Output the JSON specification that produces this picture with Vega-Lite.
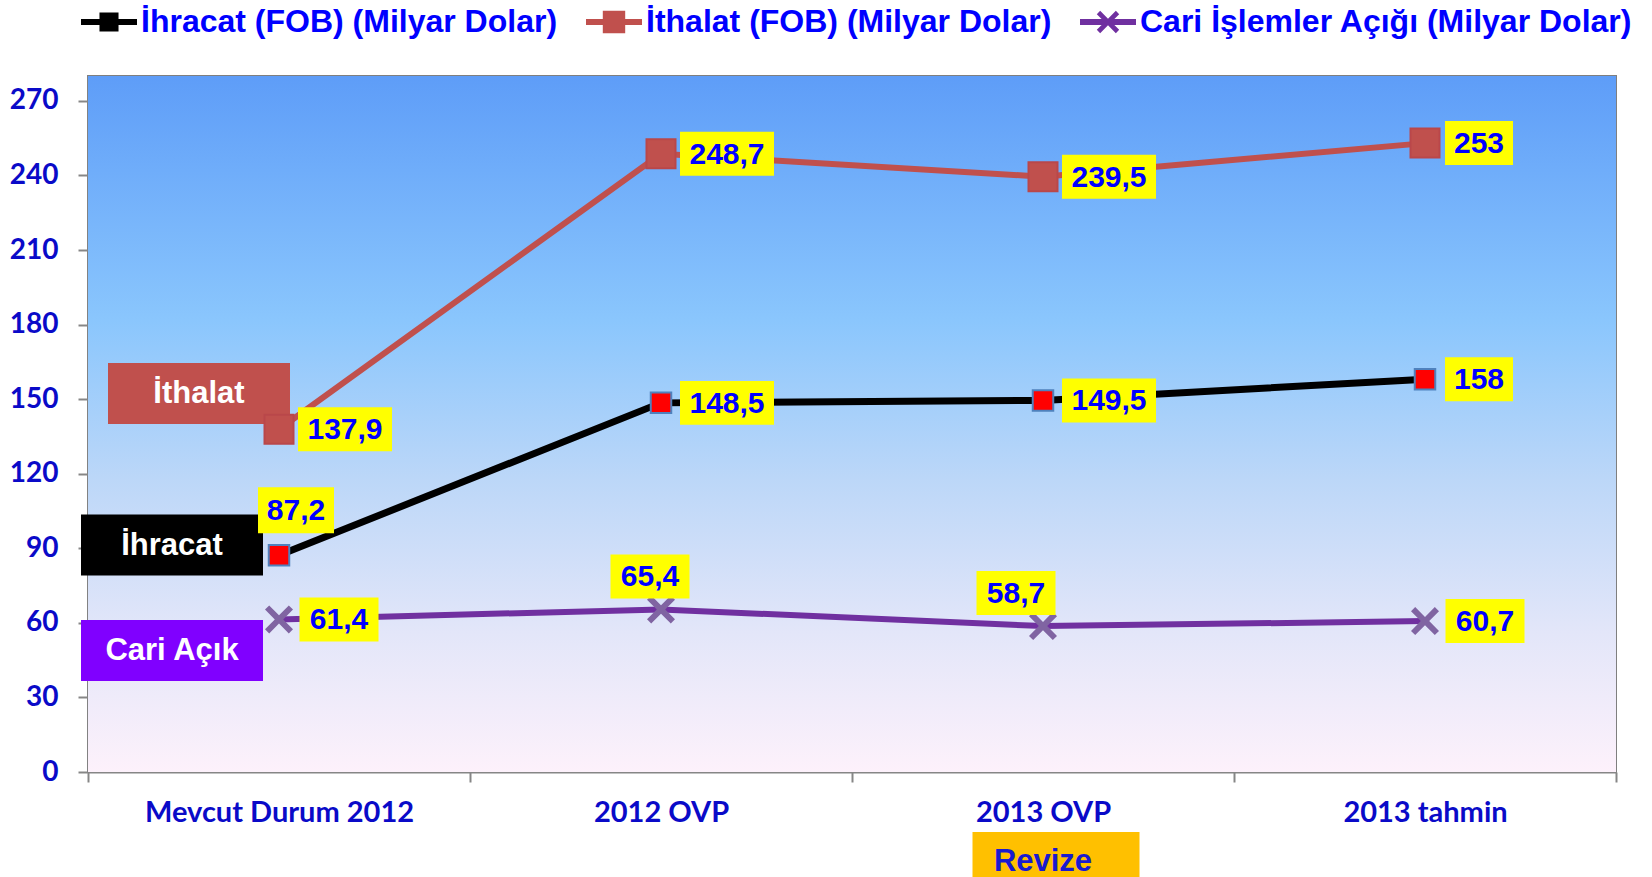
{
  "$schema": "https://vega.github.io/schema/vega-lite/v6.json",
  "width": 1528,
  "height": 696,
  "autosize": {"type": "none"},
  "padding": {"left": 88, "top": 76, "right": 36, "bottom": 105},
  "background": "#FFFFFF",
  "config": {"view": {"stroke": "#7F7F7F", "strokeWidth": 2}},
  "datasets": {
    "main": [
      {"cat": "Mevcut Durum 2012", "series": "İhracat (FOB) (Milyar Dolar)", "value": 87.2, "label": "87,2"},
      {"cat": "2012 OVP", "series": "İhracat (FOB) (Milyar Dolar)", "value": 148.5, "label": "148,5"},
      {"cat": "2013 OVP", "series": "İhracat (FOB) (Milyar Dolar)", "value": 149.5, "label": "149,5"},
      {"cat": "2013 tahmin", "series": "İhracat (FOB) (Milyar Dolar)", "value": 158, "label": "158"},
      {"cat": "Mevcut Durum 2012", "series": "İthalat (FOB) (Milyar Dolar)", "value": 137.9, "label": "137,9"},
      {"cat": "2012 OVP", "series": "İthalat (FOB) (Milyar Dolar)", "value": 248.7, "label": "248,7"},
      {"cat": "2013 OVP", "series": "İthalat (FOB) (Milyar Dolar)", "value": 239.5, "label": "239,5"},
      {"cat": "2013 tahmin", "series": "İthalat (FOB) (Milyar Dolar)", "value": 253, "label": "253"},
      {"cat": "Mevcut Durum 2012", "series": "Cari İşlemler Açığı (Milyar Dolar)", "value": 61.4, "label": "61,4"},
      {"cat": "2012 OVP", "series": "Cari İşlemler Açığı (Milyar Dolar)", "value": 65.4, "label": "65,4"},
      {"cat": "2013 OVP", "series": "Cari İşlemler Açığı (Milyar Dolar)", "value": 58.7, "label": "58,7"},
      {"cat": "2013 tahmin", "series": "Cari İşlemler Açığı (Milyar Dolar)", "value": 60.7, "label": "60,7"}
    ],
    "ann": [
      {"cat": "Mevcut Durum 2012", "value": 152.3, "text": "İthalat"},
      {"cat": "Mevcut Durum 2012", "value": 91.3, "text": "İhracat"},
      {"cat": "Mevcut Durum 2012", "value": 48.9, "text": "Cari Açık"},
      {"cat": "2013 OVP", "value": -35.8, "text": "Revize"}
    ],
    "bg": [{"value": 0, "value2": 280}]
  },
  "layer": [
    {
      "data": {"name": "bg"},
      "mark": {"type": "rect", "fill": {"gradient": "linear", "x1": 0, "y1": 0, "x2": 0, "y2": 1, "stops": [
        {"offset": 0, "color": "#5E9DF8"},
        {"offset": 0.35, "color": "#8AC6FD"},
        {"offset": 0.58, "color": "#BCD7F8"},
        {"offset": 0.8, "color": "#E3E6F9"},
        {"offset": 1, "color": "#FDF1FB"}
      ]}},
      "encoding": {
        "y": {"field": "value", "type": "quantitative", "scale": {"domain": [0, 280], "nice": false},
          "axis": {"title": null, "values": [0, 30, 60, 90, 120, 150, 180, 210, 240, 270], "grid": false, "domainColor": "#868686", "domainWidth": 2, "tickColor": "#868686", "tickWidth": 2, "tickSize": 10, "labelPadding": 20, "labelFont": "Lato", "labelFontWeight": "bold", "labelFontSize": 28, "labelColor": "#0A0AC8"}},
        "y2": {"field": "value2"}
      }
    },
    {
      "data": {"name": "ann"},
      "encoding": {
        "x": {"field": "cat", "type": "nominal", "sort": null, "scale": {"type": "band", "domain": ["Mevcut Durum 2012", "2012 OVP", "2013 OVP", "2013 tahmin"], "paddingInner": 0, "paddingOuter": 0},
          "axis": {"title": null, "labelAngle": 0, "domainColor": "#868686", "domainWidth": 2, "tickColor": "#868686", "tickWidth": 2, "tickSize": 10, "tickBand": "extent", "labelPadding": 16, "labelFont": "Lato", "labelFontWeight": "bold", "labelFontSize": 29, "labelColor": "#0A0AC8", "labelLimit": 500}},
        "y": {"field": "value", "type": "quantitative"}
      },
      "layer": [
        {
          "transform": [{"filter": "datum.text === 'İthalat'"}],
          "layer": [
            {"mark": {"type": "point", "shape": "M-1,-0.335H1V0.335H-1Z", "size": 33124, "filled": true, "fill": "#C0504D", "opacity": 1, "strokeWidth": 0, "xOffset": -80}},
            {"mark": {"type": "text", "font": "Liberation Sans", "fontWeight": "bold", "fontSize": 31, "color": "#FFFFFF", "align": "center", "baseline": "middle", "xOffset": -80, "yOffset": 1}, "encoding": {"text": {"field": "text"}}}
          ]
        },
        {
          "transform": [{"filter": "datum.text === 'İhracat'"}],
          "layer": [
            {"mark": {"type": "point", "shape": "M-1,-0.335H1V0.335H-1Z", "size": 33124, "filled": true, "fill": "#000000", "opacity": 1, "strokeWidth": 0, "xOffset": -107}},
            {"mark": {"type": "text", "font": "Liberation Sans", "fontWeight": "bold", "fontSize": 31, "color": "#FFFFFF", "align": "center", "baseline": "middle", "xOffset": -107, "yOffset": 1}, "encoding": {"text": {"field": "text"}}}
          ]
        },
        {
          "transform": [{"filter": "datum.text === 'Cari Açık'"}],
          "layer": [
            {"mark": {"type": "point", "shape": "M-1,-0.335H1V0.335H-1Z", "size": 33124, "filled": true, "fill": "#8000FF", "opacity": 1, "strokeWidth": 0, "xOffset": -107}},
            {"mark": {"type": "text", "font": "Liberation Sans", "fontWeight": "bold", "fontSize": 31, "color": "#FFFFFF", "align": "center", "baseline": "middle", "xOffset": -107, "yOffset": 1}, "encoding": {"text": {"field": "text"}}}
          ]
        },
        {
          "transform": [{"filter": "datum.text === 'Revize'"}],
          "layer": [
            {"mark": {"type": "point", "shape": "M-1,-0.347H1V0.347H-1Z", "size": 27889, "filled": true, "fill": "#FFC000", "opacity": 1, "strokeWidth": 0, "xOffset": 13}},
            {"mark": {"type": "text", "font": "Liberation Sans", "fontWeight": "bold", "fontSize": 31, "color": "#1A1ACF", "align": "center", "baseline": "middle", "xOffset": 0, "yOffset": 1}, "encoding": {"text": {"field": "text"}}}
          ]
        }
      ]
    },
    {
      "data": {"name": "main"},
      "encoding": {
        "x": {"field": "cat", "type": "nominal", "sort": null, "scale": {"type": "band", "domain": ["Mevcut Durum 2012", "2012 OVP", "2013 OVP", "2013 tahmin"], "paddingInner": 0, "paddingOuter": 0},
          "axis": {"title": null, "labelAngle": 0, "domainColor": "#868686", "domainWidth": 2, "tickColor": "#868686", "tickWidth": 2, "tickSize": 10, "tickBand": "extent", "labelPadding": 16, "labelFont": "Lato", "labelFontWeight": "bold", "labelFontSize": 29, "labelColor": "#0A0AC8", "labelLimit": 500}},
        "y": {"field": "value", "type": "quantitative"}
      },
      "layer": [
        {
          "transform": [{"filter": "datum.series === 'İhracat (FOB) (Milyar Dolar)'"}],
          "mark": {"type": "line", "color": "#000000", "strokeWidth": 7},
          "encoding": {}
        },
        {
          "transform": [{"filter": "datum.series === 'İthalat (FOB) (Milyar Dolar)'"}],
          "mark": {"type": "line", "color": "#C0504D", "strokeWidth": 6},
          "encoding": {}
        },
        {
          "transform": [{"filter": "datum.series === 'Cari İşlemler Açığı (Milyar Dolar)'"}],
          "mark": {"type": "line", "color": "#7030A0", "strokeWidth": 6},
          "encoding": {}
        },
        {
          "transform": [{"filter": "datum.series === 'İhracat (FOB) (Milyar Dolar)'"}],
          "mark": {"type": "point", "shape": "square", "filled": true, "fill": "#FF0000", "stroke": "#4F81BD", "strokeWidth": 2, "size": 420, "opacity": 1}
        },
        {
          "transform": [{"filter": "datum.series === 'İthalat (FOB) (Milyar Dolar)'"}],
          "mark": {"type": "point", "shape": "square", "filled": true, "fill": "#C0504D", "stroke": "#B9474A", "strokeWidth": 2, "size": 841, "opacity": 1}
        },
        {
          "transform": [{"filter": "datum.series === 'Cari İşlemler Açığı (Milyar Dolar)'"}],
          "mark": {"type": "point", "shape": "M-1,-0.7L-0.7,-1L0,-0.3L0.7,-1L1,-0.7L0.3,0L1,0.7L0.7,1L0,0.3L-0.7,1L-1,0.7L-0.3,0Z", "filled": true, "fill": "#8064A2", "strokeWidth": 0, "size": 784, "opacity": 1}
        },
        {
          "transform": [{"filter": "datum.value < 0"}],
          "mark": {"type": "point", "filled": true, "opacity": 1},
          "encoding": {
            "fill": {"field": "series", "type": "nominal", "scale": {"domain": ["İhracat (FOB) (Milyar Dolar)", "İthalat (FOB) (Milyar Dolar)", "Cari İşlemler Açığı (Milyar Dolar)"], "range": ["#000000", "#C0504D", "#7030A0"]},
              "legend": {"orient": "none", "legendX": -7, "legendY": -82, "direction": "horizontal", "title": null, "labelFont": "Liberation Sans", "labelFontWeight": "bold", "labelFontSize": 32, "labelColor": "#0000FF", "labelLimit": 800, "symbolSize": 3136, "symbolStrokeWidth": 0, "symbolOpacity": 1, "labelOffset": 4, "columnPadding": 28, "padding": 0}},
            "shape": {"field": "series", "type": "nominal", "scale": {"domain": ["İhracat (FOB) (Milyar Dolar)", "İthalat (FOB) (Milyar Dolar)", "Cari İşlemler Açığı (Milyar Dolar)"], "range": [
              "M-1,-0.11H1V0.11H-1Z M-0.34,-0.34H0.34V0.34H-0.34Z",
              "M-1,-0.11H1V0.11H-1Z M-0.4,-0.4H0.4V0.4H-0.4Z",
              "M-1,-0.11H1V0.11H-1Z M-0.4,-0.28L-0.28,-0.4L0,-0.12L0.28,-0.4L0.4,-0.28L0.12,0L0.4,0.28L0.28,0.4L0,0.12L-0.28,0.4L-0.4,0.28L-0.12,0Z"
            ]}}
          }
        },
        {
          "transform": [{"filter": "indexof(['137,9','248,7','239,5','148,5','149,5'], datum.label) >= 0"}],
          "layer": [
            {"mark": {"type": "point", "shape": "M-1,-0.468H1V0.468H-1Z", "size": 8836, "filled": true, "fill": "#FFFF00", "opacity": 1, "strokeWidth": 0, "xOffset": 66}},
            {"mark": {"type": "text", "font": "Liberation Sans", "fontWeight": "bold", "fontSize": 30, "color": "#0000FF", "align": "center", "baseline": "middle", "xOffset": 66, "yOffset": 1}, "encoding": {"text": {"field": "label"}}}
          ]
        },
        {
          "transform": [{"filter": "indexof(['253','158'], datum.label) >= 0"}],
          "layer": [
            {"mark": {"type": "point", "shape": "M-1,-0.647H1V0.647H-1Z", "size": 4624, "filled": true, "fill": "#FFFF00", "opacity": 1, "strokeWidth": 0, "xOffset": 54}},
            {"mark": {"type": "text", "font": "Liberation Sans", "fontWeight": "bold", "fontSize": 30, "color": "#0000FF", "align": "center", "baseline": "middle", "xOffset": 54, "yOffset": 1}, "encoding": {"text": {"field": "label"}}}
          ]
        },
        {
          "transform": [{"filter": "indexof(['61,4','60,7'], datum.label) >= 0"}],
          "layer": [
            {"mark": {"type": "point", "shape": "M-1,-0.557H1V0.557H-1Z", "size": 6241, "filled": true, "fill": "#FFFF00", "opacity": 1, "strokeWidth": 0, "xOffset": 60}},
            {"mark": {"type": "text", "font": "Liberation Sans", "fontWeight": "bold", "fontSize": 30, "color": "#0000FF", "align": "center", "baseline": "middle", "xOffset": 60, "yOffset": 1}, "encoding": {"text": {"field": "label"}}}
          ]
        },
        {
          "transform": [{"filter": "datum.label === '87,2'"}],
          "layer": [
            {"mark": {"type": "point", "shape": "M-1,-0.605H1V0.605H-1Z", "size": 5776, "filled": true, "fill": "#FFFF00", "opacity": 1, "strokeWidth": 0, "xOffset": 17, "yOffset": -45}},
            {"mark": {"type": "text", "font": "Liberation Sans", "fontWeight": "bold", "fontSize": 30, "color": "#0000FF", "align": "center", "baseline": "middle", "xOffset": 17, "yOffset": -44}, "encoding": {"text": {"field": "label"}}}
          ]
        },
        {
          "transform": [{"filter": "datum.label === '65,4'"}],
          "layer": [
            {"mark": {"type": "point", "shape": "M-1,-0.557H1V0.557H-1Z", "size": 6241, "filled": true, "fill": "#FFFF00", "opacity": 1, "strokeWidth": 0, "xOffset": -11, "yOffset": -33}},
            {"mark": {"type": "text", "font": "Liberation Sans", "fontWeight": "bold", "fontSize": 30, "color": "#0000FF", "align": "center", "baseline": "middle", "xOffset": -11, "yOffset": -32}, "encoding": {"text": {"field": "label"}}}
          ]
        },
        {
          "transform": [{"filter": "datum.label === '58,7'"}],
          "layer": [
            {"mark": {"type": "point", "shape": "M-1,-0.557H1V0.557H-1Z", "size": 6241, "filled": true, "fill": "#FFFF00", "opacity": 1, "strokeWidth": 0, "xOffset": -27, "yOffset": -33}},
            {"mark": {"type": "text", "font": "Liberation Sans", "fontWeight": "bold", "fontSize": 30, "color": "#0000FF", "align": "center", "baseline": "middle", "xOffset": -27, "yOffset": -32}, "encoding": {"text": {"field": "label"}}}
          ]
        }
      ]
    }
  ]
}
